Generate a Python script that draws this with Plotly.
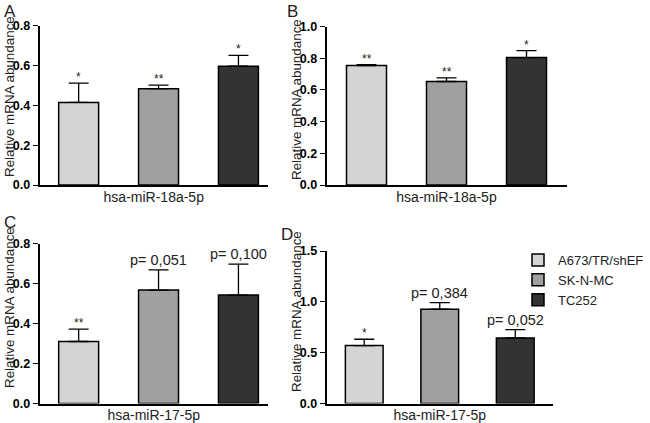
import plotly.graph_objects as go

cell_lines = ["A673/TR/shEF", "SK-N-MC", "TC252"]
colors = ["#d4d4d4", "#a0a0a3", "#333333"]

panels = ["A", "B", "C", "D"]
mirnas = ["hsa-miR-18a-5p", "hsa-miR-18a-5p", "hsa-miR-17-5p", "hsa-miR-17-5p"]
y_title = "Relative mRNA abundance"

values_a = [0.414, 0.483, 0.596]
errors_a = [0.097, 0.018, 0.054]
labels_a = ["*", "**", "*"]

values_b = [0.754, 0.653, 0.804]
errors_b = [0.006, 0.023, 0.044]
labels_b = ["**", "**", "*"]

values_c = [0.310, 0.567, 0.542]
errors_c = [0.062, 0.101, 0.155]
labels_c = ["**", "p= 0,051", "p= 0,100"]

values_d = [0.570, 0.927, 0.645]
errors_d = [0.062, 0.065, 0.082]
labels_d = ["*", "p= 0,384", "p= 0,052"]

values = [values_a, values_b, values_c, values_d]
errors = [errors_a, errors_b, errors_c, errors_d]
labels = [labels_a, labels_b, labels_c, labels_d]

y_max = [0.8, 1.0, 0.8, 1.5]
y_dtick = [0.2, 0.2, 0.2, 0.5]

W, H = 650, 423
# plot areas in pixels: left, right, top, bottom
boxes = [
    (39.5, 268, 25.5, 185),
    (326.5, 566.5, 26.5, 185),
    (39.5, 268, 243.5, 403.5),
    (326.5, 553, 251, 403.5),
]
x_ranges = [[-0.49, 2.37], [-0.5, 2.5], [-0.49, 2.37], [-0.5, 2.5]]
letter_pos = [(2, 0), (285, 0), (2, 211), (279, 223)]
ytitle_pos = [(9, 97), (296, 100), (9, 308), (296, 312)]

font = "Liberation Sans, Arial, sans-serif"

fig = go.Figure()
layout = {}
annotations = []

for i in range(4):
    n = "" if i == 0 else str(i + 1)
    for j, cl in enumerate(cell_lines):
        fig.add_trace(go.Bar(
            x=[cl],
            y=[values[i][j]],
            width=0.5,
            marker=dict(color=colors[j], line=dict(color="black", width=1.5)),
            error_y=dict(type="data", array=[errors[i][j]], arrayminus=[0],
                         symmetric=False, color="black", thickness=1.3, width=10),
            name=cl,
            legendgroup=cl,
            showlegend=(i == 3),
            xaxis="x" + n,
            yaxis="y" + n,
        ))
        small = labels[i][j].startswith("*")
        annotations.append(dict(
            x=cl, y=values[i][j] + errors[i][j],
            xref="x" + n, yref="y" + n,
            text=labels[i][j], showarrow=False,
            yanchor="bottom", yshift=-3 if small else 0,
            font=dict(size=12 if small else 14.5, color="#222222", family=font),
        ))
    l, r, t, b = boxes[i]
    layout["xaxis" + n] = dict(
        domain=[l / W, r / W], anchor="y" + n, automargin=False,
        range=x_ranges[i], showticklabels=False, ticks="",
        showline=True, linecolor="black", linewidth=1.5,
        showgrid=False, zeroline=False,
        title=dict(text=mirnas[i], standoff=6,
                   font=dict(size=14, color="#222222", family=font)),
    )
    layout["yaxis" + n] = dict(
        domain=[1 - b / H, 1 - t / H], anchor="x" + n, automargin=False,
        range=[0, y_max[i]], dtick=y_dtick[i], tickformat=".1f",
        ticks="outside", ticklen=5, tickwidth=1.3, tickcolor="black",
        showline=True, linecolor="black", linewidth=1.5,
        showgrid=False, zeroline=False,
        tickfont=dict(size=12.5, color="black", family=font, weight="bold"),
    )
    tx, ty = ytitle_pos[i]
    annotations.append(dict(
        x=tx / W, y=1 - ty / H, xref="paper", yref="paper",
        text=y_title, textangle=-90, showarrow=False,
        xanchor="center", yanchor="middle",
        font=dict(size=13.4, color="#222222", family=font),
    ))
    lx, ly = letter_pos[i]
    annotations.append(dict(
        x=lx / W, y=1 - ly / H, xref="paper", yref="paper",
        text=panels[i], showarrow=False, xanchor="left", yanchor="top",
        font=dict(size=17, color="#222222", family=font),
    ))

fig.update_layout(
    width=W, height=H,
    margin=dict(l=0, r=0, t=0, b=0),
    plot_bgcolor="white", paper_bgcolor="white",
    barmode="overlay",
    showlegend=True,
    legend=dict(x=518 / W, y=1 - 245 / H, xanchor="left", yanchor="top",
                font=dict(size=13, color="#222222", family=font),
                bgcolor="rgba(0,0,0,0)", tracegroupgap=0, itemwidth=30),
    annotations=annotations,
    **layout,
)

# page has a default 8px body margin; drop it so the figure sits at 0,0
fig.write_html("out.html", config={"displayModeBar": False},
               post_script="document.body.style.margin='0';")
